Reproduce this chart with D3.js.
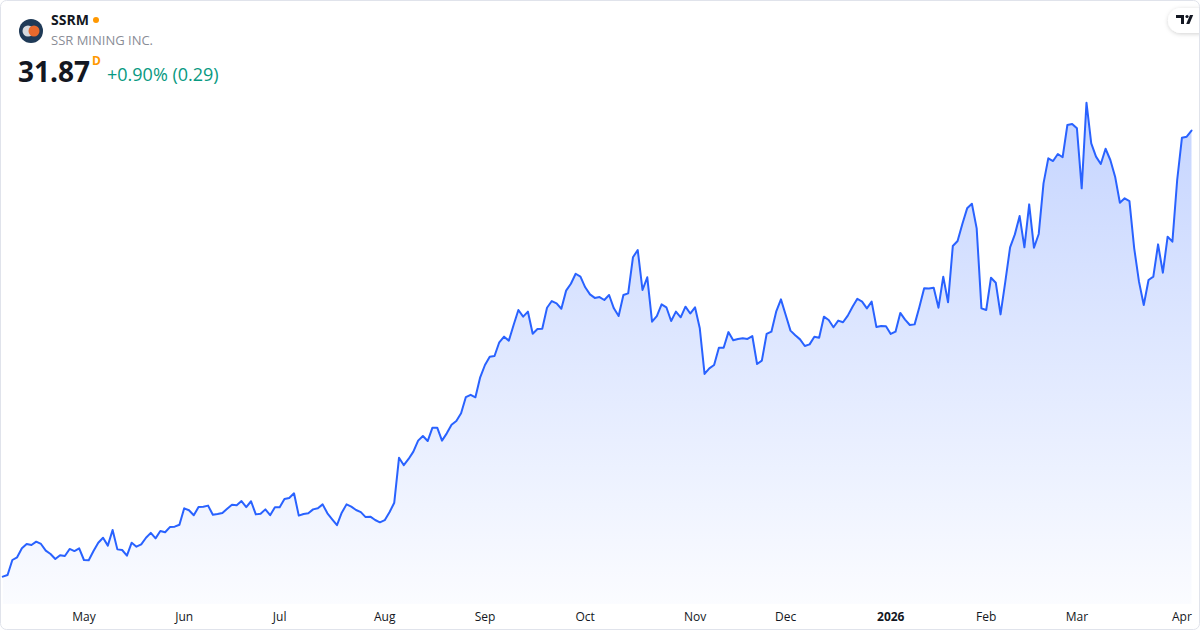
<!DOCTYPE html>
<html>
<head>
<meta charset="utf-8">
<script src="https://cdn.jsdelivr.net/npm/d3@7"></script>
<style>
  html, body { margin: 0; padding: 0; background: #ffffff; }
  svg { display: block; font-family: "Open Sans", "Noto Sans", sans-serif; }
</style>
</head>
<body>
<svg id="chart" width="1200" height="630"></svg>
<script>
// ---- data ----
const ticker = "SSRM";
const companyName = "SSR MINING INC.";
const lastPrice = "31.87";
const intervalMark = "D";
const changeText = "+0.90% (0.29)";

// daily closes, one per trading day (Apr 2025 – Apr 2026)
const closes = [
  10.46, 10.54, 11.26, 11.39, 11.82, 12.03, 11.98, 12.14, 12.03, 11.71,
  11.55, 11.31, 11.49, 11.45, 11.79, 11.69, 11.82, 11.26, 11.25, 11.69,
  12.09, 12.33, 11.95, 12.70, 11.77, 11.74, 11.47, 12.09, 11.90, 12.01,
  12.33, 12.56, 12.30, 12.65, 12.59, 12.84, 12.86, 12.95, 13.74, 13.65,
  13.41, 13.80, 13.82, 13.87, 13.43, 13.47, 13.52, 13.72, 13.91, 13.89,
  14.09, 13.80, 14.08, 13.45, 13.48, 13.69, 13.41, 13.79, 13.79, 14.19,
  14.24, 14.46, 13.39, 13.47, 13.50, 13.69, 13.74, 13.93, 13.50, 13.21,
  12.93, 13.53, 13.93, 13.82, 13.66, 13.56, 13.32, 13.34, 13.18, 13.07,
  13.17, 13.55, 14.01, 16.17, 15.81, 16.11, 16.46, 16.99, 17.21, 16.97,
  17.61, 17.61, 16.99, 17.34, 17.75, 17.93, 18.30, 19.08, 19.19, 19.07,
  20.03, 20.62, 21.02, 21.05, 21.71, 21.98, 21.79, 22.54, 23.26, 22.94,
  23.18, 22.12, 22.35, 22.36, 23.37, 23.69, 23.58, 23.32, 24.19, 24.52,
  25.00, 24.86, 24.35, 24.01, 23.84, 23.88, 23.74, 23.98, 23.34, 22.97,
  23.98, 24.06, 25.79, 26.14, 24.22, 24.83, 22.70, 22.97, 23.53, 23.39,
  22.73, 23.18, 22.91, 23.42, 23.09, 23.39, 22.38, 20.19, 20.46, 20.62,
  21.45, 21.45, 22.20, 21.81, 21.87, 21.90, 21.87, 22.01, 20.67, 20.83,
  22.11, 22.22, 23.18, 23.77, 23.02, 22.27, 22.05, 21.85, 21.53, 21.61,
  21.98, 21.93, 22.94, 22.78, 22.43, 22.75, 22.67, 22.99, 23.42, 23.80,
  23.66, 23.34, 23.66, 22.44, 22.49, 22.48, 22.11, 22.22, 23.12, 22.80,
  22.54, 22.57, 23.40, 24.30, 24.29, 24.33, 23.37, 24.86, 23.63, 26.33,
  26.57, 27.39, 28.14, 28.36, 27.18, 23.34, 23.26, 24.81, 24.57, 23.05,
  24.62, 26.27, 26.89, 27.77, 26.27, 28.33, 26.25, 26.91, 29.34, 30.54,
  30.41, 30.75, 30.59, 32.14, 32.19, 31.98, 29.10, 33.21, 31.26, 30.62,
  30.27, 31.00, 30.46, 29.66, 28.41, 28.62, 28.49, 26.22, 24.62, 23.50,
  24.70, 24.86, 26.41, 25.05, 26.78, 26.54, 29.50, 31.53, 31.58, 31.87
];

// x-axis: label text and index of the first trading day of each month
const tickLabels = ["May", "Jun", "Jul", "Aug", "Sep", "Oct", "Nov", "Dec", "2026", "Feb", "Mar", "Apr"];
const tickIndex  = [17, 38, 58, 80, 101, 122, 145, 164, 186, 206, 225, 247];
const tickBold   = [false, false, false, false, false, false, false, false, true, false, false, false];

// ---- drawing ----
const W = 1200, H = 630;
const svg = d3.select("#chart");

const x = d3.scaleLinear().domain([0, closes.length - 1]).range([2.8, 1191.5]);
const y = d3.scaleLinear().domain([10, 34]).range([586.25, 86.25]);
const baseY = 604;

const defs = svg.append("defs");
const grad = defs.append("linearGradient")
  .attr("id", "areaGrad").attr("gradientUnits", "userSpaceOnUse")
  .attr("x1", 0).attr("x2", 0).attr("y1", 90).attr("y2", baseY);
grad.append("stop").attr("offset", "0%").attr("stop-color", "#2962ff").attr("stop-opacity", 0.28);
grad.append("stop").attr("offset", "100%").attr("stop-color", "#2962ff").attr("stop-opacity", 0.02);

const shadow = defs.append("filter").attr("id", "shadow")
  .attr("x", "-50%").attr("y", "-50%").attr("width", "200%").attr("height", "200%");
shadow.append("feDropShadow").attr("dx", 0).attr("dy", 1).attr("stdDeviation", 2)
  .attr("flood-color", "#000").attr("flood-opacity", 0.18);

// background
svg.append("rect").attr("x", 0).attr("y", 0).attr("width", W).attr("height", H).attr("fill", "#ffffff");

// area
const area = d3.area()
  .x((d, i) => x(i))
  .y0(baseY)
  .y1(d => y(d));
svg.append("path").datum(closes).attr("d", area).attr("fill", "url(#areaGrad)");

// line
const line = d3.line()
  .x((d, i) => x(i))
  .y(d => y(d));
svg.append("path").datum(closes).attr("d", line)
  .attr("fill", "none").attr("stroke", "#2962ff").attr("stroke-width", 2)
  .attr("stroke-linejoin", "round").attr("stroke-linecap", "round");

// x-axis labels
const axisG = svg.append("g");
axisG.selectAll("text").data(tickLabels).enter().append("text")
  .attr("x", (d, i) => x(tickIndex[i]))
  .attr("y", 621)
  .attr("text-anchor", "middle")
  .attr("font-size", 12)
  .attr("font-weight", (d, i) => tickBold[i] ? 700 : 400)
  .attr("fill", "#131722")
  .text(d => d);

// header: logo
const logo = svg.append("g").attr("transform", "translate(31,31)");
logo.append("circle").attr("r", 12).attr("fill", "#1f3a57");
logo.append("circle").attr("cx", -3).attr("cy", 0).attr("r", 5.5).attr("fill", "#d6d9de");
logo.append("circle").attr("cx", 3).attr("cy", 0).attr("r", 5.5).attr("fill", "#e8692d");

svg.append("text").attr("x", 51).attr("y", 25)
  .attr("font-size", 14).attr("font-weight", 700).attr("fill", "#131722").text(ticker);
svg.append("circle").attr("cx", 96).attr("cy", 20).attr("r", 3).attr("fill", "#ff9800");
svg.append("text").attr("x", 51).attr("y", 45)
  .attr("font-size", 13).attr("fill", "#8a8d96").text(companyName);

svg.append("text").attr("x", 18).attr("y", 82)
  .attr("font-size", 28).attr("font-weight", 700).attr("fill", "#131722").text(lastPrice);
svg.append("text").attr("x", 92).attr("y", 65)
  .attr("font-size", 12).attr("font-weight", 700).attr("fill", "#ff9800").text(intervalMark);
svg.append("text").attr("x", 107).attr("y", 81)
  .attr("font-size", 18).attr("fill", "#089981").text(changeText);

// TradingView badge
const badge = svg.append("g");
badge.append("rect").attr("x", 1168).attr("y", 8).attr("width", 44).attr("height", 25).attr("rx", 12.5)
  .attr("fill", "#ffffff").attr("filter", "url(#shadow)");
badge.append("path").attr("d", "M1176,15 h8 v9 h-3 v-6 h-5 z").attr("fill", "#131722");
badge.append("circle").attr("cx", 1187).attr("cy", 16.5).attr("r", 1.6).attr("fill", "#131722");
badge.append("path").attr("d", "M1190,15 h3.2 l-3.8,9 h-3.2 z").attr("fill", "#131722");

// frame
svg.append("rect").attr("x", 0.5).attr("y", 0.5).attr("width", W - 1).attr("height", H - 1)
  .attr("rx", 6).attr("fill", "none").attr("stroke", "#e0e3eb").attr("stroke-width", 1);
</script>
</body>
</html>
